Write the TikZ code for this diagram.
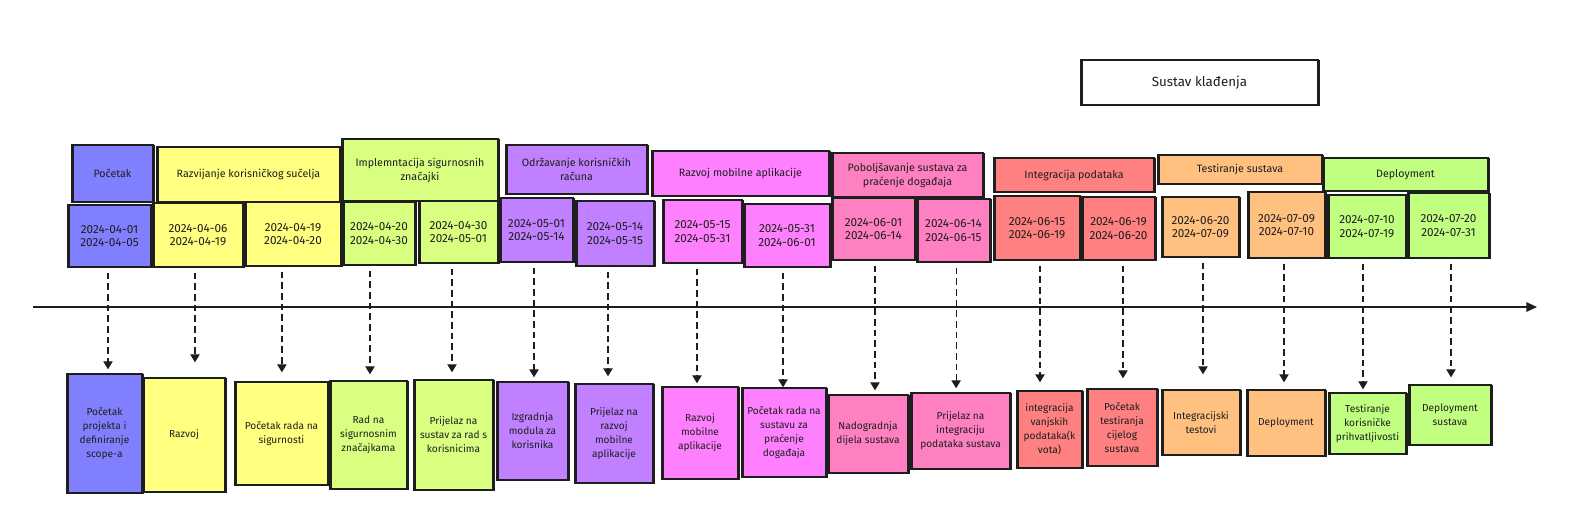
\documentclass[tikz,border=0pt]{standalone}
\usepackage{fontspec}
\setmainfont{Fira Sans}
\usetikzlibrary{arrows.meta,calc}
\definecolor{ink}{HTML}{1E1E1E}
\definecolor{cblue}{HTML}{8080FF}
\definecolor{cyellow}{HTML}{FFFF80}
\definecolor{cgreenA}{HTML}{D8FF80}
\definecolor{cpurple}{HTML}{C080FF}
\definecolor{cmagenta}{HTML}{FF80FF}
\definecolor{cpink}{HTML}{FF80C0}
\definecolor{cred}{HTML}{FF8080}
\definecolor{corange}{HTML}{FFC080}
\definecolor{cgreenB}{HTML}{C0FF80}
\tikzset{
  box/.style={draw=ink, line width=1.0pt, inner sep=1pt, align=center, text=ink,
    font=\fontsize{8}{10.5}\selectfont,
    postaction={draw=ink, line width=0.45pt, transform canvas={xshift=0.7pt,yshift=-0.5pt}}},
  small/.style={font=\fontsize{7.6}{10.5}\selectfont},
  datefont/.style={font=\fontsize{8.8}{10.2}\selectfont},
  arr/.style={draw=ink, line width=0.9pt, dash pattern=on 5pt off 3pt, -{Triangle[width=7pt,length=6pt]}},
  timeline/.style={draw=ink, line width=1.6pt, -{Triangle[width=7pt,length=8pt]}}
}
\newcommand\mk[8][]{\node[box,#1,fill=#7,minimum width={(#4-#2)*0.75pt},minimum height={(#5-#3)*0.75pt}] (#6) at ({(#2+#4)/2},{(#3+#5)/2}) {#8};}
\newcommand\conn[4]{\draw[arr] ($(#2.north |- #1.south)+(#3,5)$) -- ($(#2.north)+(#3,-#4)$);}
\begin{document}
\begin{tikzpicture}[x=0.75pt,y=-0.75pt]
\fill[white] (0,0) rectangle (1582,513);
\useasboundingbox (0,0) rectangle (1582,513);
% title
\mk[font=\fontsize{10}{12}\selectfont]{1081}{60}{1318}{105}{title}{white}{Sustav klađenja}
% headers
\mk{72}{145}{153}{202}{h1}{cblue}{Početak}
\mk{157}{147}{340}{202}{h2}{cyellow}{Razvijanje korisničkog sučelja}
\mk{342}{139}{498}{201}{h3}{cgreenA}{Implemntacija sigurnosnih\\značajki}
\mk{506}{145}{647}{194}{h4}{cpurple}{Održavanje korisničkih\\računa}
\mk{652}{151}{829}{196}{h5}{cmagenta}{Razvoj mobilne aplikacije}
\mk{832}{153}{983}{197}{h6}{cpink}{Poboljšavanje sustava za\\praćenje događaja}
\mk{994}{158}{1154}{192}{h7}{cred}{Integracija podataka}
\mk{1158}{155}{1322}{184}{h8}{corange}{Testiranje sustava}
\mk{1323}{158}{1488}{191}{h9}{cgreenB}{Deployment}
% dates
\mk[datefont]{68}{205}{151}{267}{d1}{cblue}{2024-04-01\\2024-04-05}
\mk[datefont]{153}{203}{243}{267}{d2}{cyellow}{2024-04-06\\2024-04-19}
\mk[datefont]{245}{202}{341}{266}{d3}{cyellow}{2024-04-19\\2024-04-20}
\mk[datefont]{343}{202}{415}{265}{d4}{cgreenA}{2024-04-20\\2024-04-30}
\mk[datefont]{419}{201}{498}{263}{d5}{cgreenA}{2024-04-30\\2024-05-01}
\mk[datefont]{500}{198}{573}{262}{d6}{cpurple}{2024-05-01\\2024-05-14}
\mk[datefont]{576}{201}{654}{266}{d7}{cpurple}{2024-05-14\\2024-05-15}
\mk[datefont]{663}{200}{742}{263}{d8}{cmagenta}{2024-05-15\\2024-05-31}
\mk[datefont]{744}{204}{830}{267}{d9}{cmagenta}{2024-05-31\\2024-06-01}
\mk[datefont]{832}{198}{915}{260}{d10}{cpink}{2024-06-01\\2024-06-14}
\mk[datefont]{917}{199}{990}{262}{d11}{cpink}{2024-06-14\\2024-06-15}
\mk[datefont]{994}{196}{1080}{260}{d12}{cred}{2024-06-15\\2024-06-19}
\mk[datefont]{1082}{197}{1155}{260}{d13}{cred}{2024-06-19\\2024-06-20}
\mk[datefont]{1162}{197}{1239}{257}{d14}{corange}{2024-06-20\\2024-07-09}
\mk[datefont]{1248}{192}{1325}{258}{d15}{corange}{2024-07-09\\2024-07-10}
\mk[datefont]{1328}{195}{1406}{258}{d16}{cgreenB}{2024-07-10\\2024-07-19}
\mk[datefont]{1408}{193}{1489}{258}{d17}{cgreenB}{2024-07-20\\2024-07-31}
% bottom boxes
\mk[small]{67}{374}{142}{493}{b1}{cblue}{Početak\\projekta i\\definiranje\\scope-a}
\mk[small]{143}{378}{225}{492}{b2}{cyellow}{Razvoj}
\mk[small]{235}{382}{328}{485}{b3}{cyellow}{Početak rada na\\sigurnosti}
\mk[small]{330}{381}{407}{489}{b4}{cgreenA}{Rad na\\sigurnosnim\\značajkama}
\mk[small]{414}{380}{493}{490}{b5}{cgreenA}{Prijelaz na\\sustav za rad s\\korisnicima}
\mk[small]{497}{382}{568}{480}{b6}{cpurple}{Izgradnja\\modula za\\korisnika}
\mk[small]{575}{384}{653}{483}{b7}{cpurple}{Prijelaz na\\razvoj\\mobilne\\aplikacije}
\mk[small]{662}{387}{738}{479}{b8}{cmagenta}{Razvoj\\mobilne\\aplikacije}
\mk[small]{742}{388}{826}{477}{b9}{cmagenta}{Početak rada na\\sustavu za\\praćenje\\događaja}
\mk[small]{828}{395}{908}{473}{b10}{cpink}{Nadogradnja\\dijela sustava}
\mk[small]{911}{393}{1010}{469}{b11}{cpink}{Prijelaz na\\integraciju\\podataka sustava}
\mk[small]{1017}{391}{1082}{468}{b12}{cred}{integracija\\vanjskih\\podataka(k\\vota)}
\mk[small]{1087}{389}{1157}{466}{b13}{cred}{Početak\\testiranja\\cijelog\\sustava}
\mk[small]{1162}{390}{1240}{455}{b14}{corange}{Integracijski\\testovi}
\mk[small]{1247}{390}{1325}{456}{b15}{corange}{Deployment}
\mk[small]{1329}{393}{1406}{454}{b16}{cgreenB}{Testiranje\\korisničke\\prihvatljivosti}
\mk[small]{1409}{385}{1491}{445}{b17}{cgreenB}{Deployment\\sustava}
% timeline
\coordinate (tl0) at (33,307);
\coordinate (tl1) at (1537,307);
\draw[timeline] (tl0) -- (tl1);
% connectors
\conn{d1}{b1}{3.5}{4}
\conn{d2}{b2}{11}{15}
\conn{d3}{b3}{0.4}{9}
\conn{d4}{b4}{1.5}{6}
\conn{d5}{b5}{-1.5}{7}
\conn{d6}{b6}{1.5}{4}
\conn{d7}{b7}{-6}{7}
\conn{d8}{b8}{-3}{3}
\conn{d9}{b9}{-1}{0}
\conn{d10}{b10}{7}{4}
\conn{d11}{b11}{-4.4}{4}
\conn{d12}{b12}{-9.5}{8}
\conn{d13}{b13}{1}{10}
\conn{d14}{b14}{2}{15}
\conn{d15}{b15}{-2}{7}
\conn{d16}{b16}{-4.5}{3}
\conn{d17}{b17}{1}{7}
\end{tikzpicture}
\end{document}
